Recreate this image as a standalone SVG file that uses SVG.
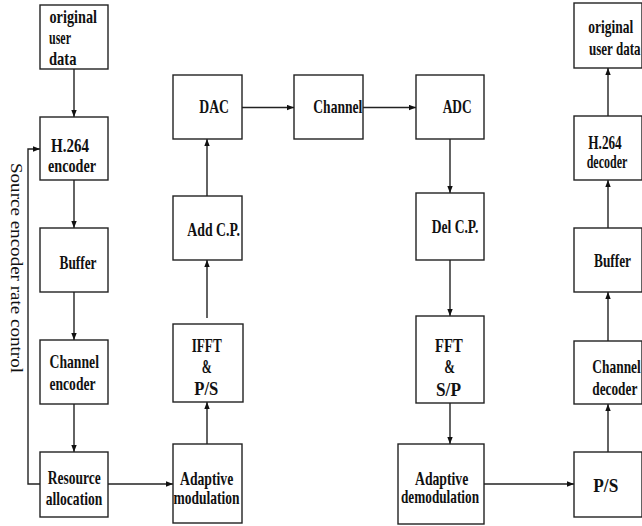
<svg xmlns="http://www.w3.org/2000/svg" width="642" height="526" viewBox="0 0 642 526">
<style>
.box{fill:#fff;stroke:#222;stroke-width:1.4}
.t{font-family:"Liberation Serif","Times New Roman",serif;font-weight:bold;font-size:19.5px;fill:#111}
.c{fill:none;stroke:#222;stroke-width:1.4;marker-end:url(#ah)}
.side{font-family:"Liberation Serif","Times New Roman",serif;font-size:17px;fill:#111}
</style>
<defs>
<marker id="ah" markerUnits="userSpaceOnUse" markerWidth="7" markerHeight="6" refX="7" refY="3" orient="auto">
<path d="M0,0.3 L7,3 L0,5.7 z" fill="#111"/>
</marker>
</defs>
<rect width="642" height="526" fill="#fff"/>

<g id="connectors">
<path class="c" d="M74,69 V117"/>
<path class="c" d="M74,180 V228"/>
<path class="c" d="M74,292 V340"/>
<path class="c" d="M74,404 V452"/>
<path class="c" d="M108,484 H173"/>
<path class="c" d="M40,484 H28 V149 H40"/>
<path class="c" d="M207,444 V402"/>
<path class="c" d="M207,318 V260"/>
<path class="c" d="M207,196 V139"/>
<path class="c" d="M242,107.5 H294"/>
<path class="c" d="M363,107.5 H416"/>
<path class="c" d="M450,139 V193"/>
<path class="c" d="M450,260 V316"/>
<path class="c" d="M450,403 V444"/>
<path class="c" d="M484,484 H574"/>
<path class="c" d="M608,452 V404"/>
<path class="c" d="M608,341 V292"/>
<path class="c" d="M608,228 V180"/>
<path class="c" d="M608,116 V68"/>
</g>

<g id="orig-user-data">
<rect class="box" x="40" y="5" width="68" height="64"/>
<text class="t" x="49.5" y="23" textLength="47.5" lengthAdjust="spacingAndGlyphs">original</text>
<text class="t" x="49" y="44" textLength="22" lengthAdjust="spacingAndGlyphs">user</text>
<text class="t" x="49" y="65" textLength="27.5" lengthAdjust="spacingAndGlyphs">data</text>
</g>
<g id="h264-encoder">
<rect class="box" x="40" y="117" width="68" height="63"/>
<text class="t" x="51" y="151.5" textLength="38" lengthAdjust="spacingAndGlyphs">H.264</text>
<text class="t" x="48" y="171.5" textLength="48" lengthAdjust="spacingAndGlyphs">encoder</text>
</g>
<g id="buffer-tx">
<rect class="box" x="40" y="228" width="68" height="64"/>
<text class="t" x="59.5" y="268.5" textLength="37" lengthAdjust="spacingAndGlyphs">Buffer</text>
</g>
<g id="channel-encoder">
<rect class="box" x="40" y="340" width="68" height="64"/>
<text class="t" x="49.5" y="368" textLength="49.5" lengthAdjust="spacingAndGlyphs">Channel</text>
<text class="t" x="49.5" y="390" textLength="46" lengthAdjust="spacingAndGlyphs">encoder</text>
</g>
<g id="resource-allocation">
<rect class="box" x="40" y="452" width="68" height="65"/>
<text class="t" x="47.7" y="484" textLength="53" lengthAdjust="spacingAndGlyphs">Resource</text>
<text class="t" x="45.7" y="505" textLength="56.6" lengthAdjust="spacingAndGlyphs">allocation</text>
</g>
<g id="rate-control-label">
<text class="side" transform="translate(10.5,163) rotate(90)" x="0" y="0" textLength="210" lengthAdjust="spacingAndGlyphs">Source  encoder  rate  control</text>
</g>

<g id="adaptive-modulation">
<rect class="box" x="173" y="444" width="69" height="79"/>
<text class="t" x="180" y="485" textLength="53.3" lengthAdjust="spacingAndGlyphs">Adaptive</text>
<text class="t" x="173.5" y="504" textLength="66" lengthAdjust="spacingAndGlyphs">modulation</text>
</g>
<g id="ifft-ps">
<rect class="box" x="173" y="324" width="70" height="78"/>
<text class="t" x="191.7" y="351.7" textLength="30" lengthAdjust="spacingAndGlyphs">IFFT</text>
<text class="t" x="201.7" y="373.3" textLength="10" lengthAdjust="spacingAndGlyphs">&amp;</text>
<text class="t" x="194.3" y="395" textLength="24" lengthAdjust="spacingAndGlyphs">P/S</text>
</g>
<g id="add-cp">
<rect class="box" x="173" y="196" width="69" height="64"/>
<text class="t" x="187.3" y="235.7" textLength="52.7" lengthAdjust="spacingAndGlyphs">Add C.P.</text>
</g>
<g id="dac">
<rect class="box" x="173" y="75" width="69" height="64"/>
<text class="t" x="199.3" y="112.7" textLength="29.7" lengthAdjust="spacingAndGlyphs">DAC</text>
</g>
<g id="channel">
<rect class="box" x="294" y="75" width="69" height="64"/>
<text class="t" x="313.3" y="112.7" textLength="49" lengthAdjust="spacingAndGlyphs">Channel</text>
</g>
<g id="adc">
<rect class="box" x="416" y="75" width="68" height="64"/>
<text class="t" x="442.7" y="112.7" textLength="29" lengthAdjust="spacingAndGlyphs">ADC</text>
</g>
<g id="del-cp">
<rect class="box" x="416" y="193" width="68" height="67"/>
<text class="t" x="431.7" y="233.3" textLength="46.6" lengthAdjust="spacingAndGlyphs">Del C.P.</text>
</g>
<g id="fft-sp">
<rect class="box" x="416" y="316" width="68" height="87"/>
<text class="t" x="435" y="351.7" textLength="27.7" lengthAdjust="spacingAndGlyphs">FFT</text>
<text class="t" x="444.3" y="373.3" textLength="10.7" lengthAdjust="spacingAndGlyphs">&amp;</text>
<text class="t" x="436" y="396" textLength="25" lengthAdjust="spacingAndGlyphs">S/P</text>
</g>
<g id="adaptive-demodulation">
<rect class="box" x="398" y="444" width="86" height="80"/>
<text class="t" x="415" y="484.5" textLength="53.3" lengthAdjust="spacingAndGlyphs">Adaptive</text>
<text class="t" x="401" y="503" textLength="78" lengthAdjust="spacingAndGlyphs">demodulation</text>
</g>

<g id="ps-rx">
<rect class="box" x="574" y="452" width="68" height="65"/>
<text class="t" x="593.3" y="491.7" textLength="25" lengthAdjust="spacingAndGlyphs">P/S</text>
</g>
<g id="channel-decoder">
<rect class="box" x="574" y="341" width="68" height="63"/>
<text class="t" x="592.3" y="373.3" textLength="48.5" lengthAdjust="spacingAndGlyphs">Channel</text>
<text class="t" x="592.3" y="395" textLength="45" lengthAdjust="spacingAndGlyphs">decoder</text>
</g>
<g id="buffer-rx">
<rect class="box" x="574" y="228" width="68" height="64"/>
<text class="t" x="594" y="266.7" textLength="37" lengthAdjust="spacingAndGlyphs">Buffer</text>
</g>
<g id="h264-decoder">
<rect class="box" x="574" y="116" width="68" height="64"/>
<text class="t" x="588.3" y="149" textLength="33.4" lengthAdjust="spacingAndGlyphs">H.264</text>
<text class="t" x="586.7" y="168.3" textLength="40.6" lengthAdjust="spacingAndGlyphs">decoder</text>
</g>
<g id="orig-user-data-rx">
<rect class="box" x="574" y="3" width="68" height="65"/>
<text class="t" x="588.3" y="33.3" textLength="45" lengthAdjust="spacingAndGlyphs">original</text>
<text class="t" x="589" y="55" textLength="51.5" lengthAdjust="spacingAndGlyphs">user data</text>
</g>
</svg>
